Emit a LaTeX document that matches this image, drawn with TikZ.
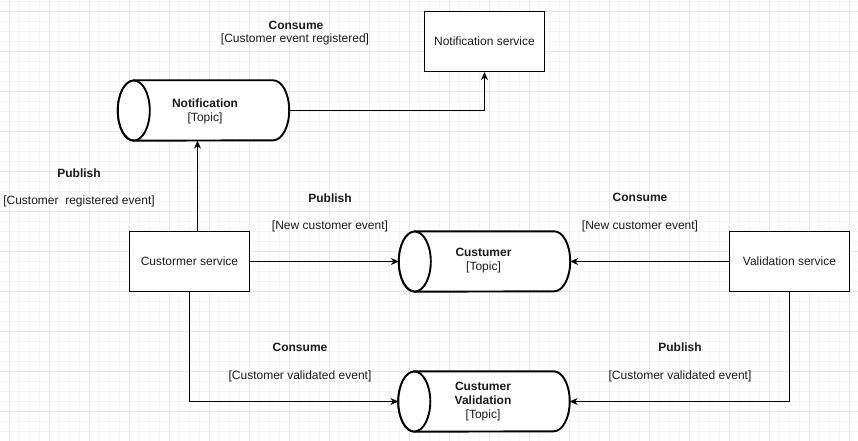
\documentclass[tikz,border=0pt]{standalone}
\usepackage{fontspec}
\setmainfont{Liberation Sans}
\usetikzlibrary{arrows.meta}
\definecolor{gridminor}{HTML}{F4F4F4}
\definecolor{gridmajor}{HTML}{E6E6E6}
\definecolor{txt}{HTML}{1A1A1A}
\tikzset{
  svcbox/.style={draw=black, line width=1.1pt, fill=white, minimum width=120pt, minimum height=60pt, inner sep=0pt, font=\fontsize{12}{14}\selectfont, text=txt},
  topicbox/.style={draw=none, minimum width=171pt, minimum height=60pt, inner sep=0pt, align=center, font=\fontsize{12}{14}\selectfont, text=txt},
  cylline/.style={line width=1.9pt, fill=white},
  lbl/.style={inner sep=0pt, font=\fontsize{12}{14}\selectfont, text=txt},
  lblb/.style={lbl, font=\fontsize{12}{14}\selectfont\bfseries},
  arr/.style={line width=1pt, -{Stealth[length=8pt,width=7pt]}}
}
\newcommand{\drawcyl}[1]{%
  \draw[cylline] ([xshift=16pt]#1.north west) -- ([xshift=-16pt]#1.north east)
    arc[start angle=90, end angle=-90, x radius=16pt, y radius=30pt]
    -- ([xshift=16pt]#1.south west)
    arc[start angle=270, end angle=90, x radius=16pt, y radius=30pt] -- cycle;
  \draw[cylline] ([xshift=16pt]#1.west) ellipse [x radius=16pt, y radius=30pt];
}
\begin{document}
\begin{tikzpicture}[x=1pt,y=-1pt]
\useasboundingbox (0,0) rectangle (858,441);
\fill[white] (0,0) rectangle (858,441);
% grid
\foreach \gx in {-0.5,9.5,...,859} {\draw[gridminor, line width=0.6pt] (\gx,0) -- (\gx,441);}
\foreach \gy in {1.5,11.5,...,441} {\draw[gridminor, line width=0.6pt] (0,\gy) -- (858,\gy);}
\foreach \gx in {9.5,49.5,...,859} {\draw[gridmajor, line width=0.8pt] (\gx,0) -- (\gx,441);}
\foreach \gy in {11.5,51.5,...,441} {\draw[gridmajor, line width=0.8pt] (0,\gy) -- (858,\gy);}

% topic nodes (cylinders)
\node[topicbox] (notif) at (203.5,110.5) {};
\node[topicbox] (ct) at (484.5,261.5) {};
\node[topicbox] (cv) at (484,401.5) {};
\drawcyl{notif}
\drawcyl{ct}
\drawcyl{cv}
\node[topicbox] (notift) at (205,111) {\textbf{Notification}\\{}[Topic]};
\node[topicbox] (ctt) at (483.5,261) {\textbf{Custumer}\\{}[Topic]};
\node[topicbox] (cvt) at (483,402) {\textbf{Custumer}\\\textbf{Validation}\\{}[Topic]};

% service boxes
\node[svcbox] (ns) at (484.5,41.5) {Notification service};
\node[svcbox] (cs) at (189.5,261.5) {Custormer service};
\node[svcbox] (vs) at (789.5,261.5) {Validation service};

% connectors
\draw[arr] (notif.east) -| (ns.south);
\draw[arr] ([xshift=8pt]cs.north) -- ([xshift=8pt]cs.north |- notif.south);
\draw[arr] (cs.east) -- (ct.west);
\draw[arr] (vs.west) -- (ct.east);
\draw[arr] (cs.south) |- (cv.west);
\draw[arr] (vs.south) |- (cv.east);

% labels
\node[lblb] (l1a) at (296,25) {Consume};
\node[lbl] (l1b) at (295,39) {[Customer event registered]};
\node[lblb] (l2a) at (79,173) {Publish};
\node[lbl] (l2b) at (79,201) {[Customer\ \ registered event]};
\node[lblb] (l3a) at (330,198) {Publish};
\node[lbl] (l3b) at (330,226) {[New customer event]};
\node[lblb] (l4a) at (640,197) {Consume};
\node[lbl] (l4b) at (640,226) {[New customer event]};
\node[lblb] (l5a) at (300,347) {Consume};
\node[lbl] (l5b) at (300,376) {[Customer validated event]};
\node[lblb] (l6a) at (680,347) {Publish};
\node[lbl] (l6b) at (680,376) {[Customer validated event]};
\end{tikzpicture}
\end{document}
